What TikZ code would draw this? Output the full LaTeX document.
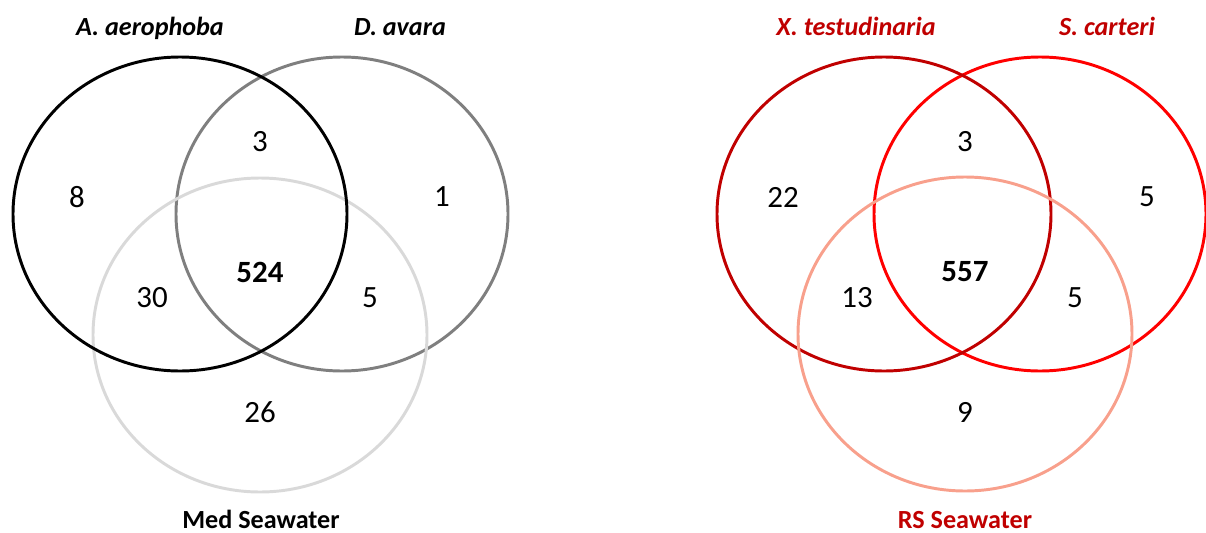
\documentclass[tikz,border=0pt]{standalone}
\usepackage{fontspec}
\setmainfont{Carlito}
\usepackage{tikz}
\usetikzlibrary{positioning}

\definecolor{cinzaesc}{HTML}{7F7F7F}
\definecolor{cinzacla}{HTML}{D9D9D9}
\definecolor{vermesc}{HTML}{C00000}
\definecolor{verm}{HTML}{FF0000}
\definecolor{salmao}{HTML}{F8A08C}

\begin{document}
\begin{tikzpicture}[
        x=0.025cm, y=-0.025cm,
        conj/.style={line width=2.1pt},
        num/.style={font=\fontsize{22}{26}\selectfont, inner sep=0pt},
        nucleo/.style={num, font=\fontsize{22}{26}\selectfont\bfseries},
        rotulo/.style={anchor=base, inner sep=0pt, font=\fontsize{18.6}{22}\selectfont\bfseries\itshape},
        amostra/.style={anchor=base, inner sep=0pt, font=\fontsize{18.6}{22}\selectfont\bfseries}
    ]
        \useasboundingbox (0,0) rectangle (1206,533);
        % Mediterranean sponges
        \draw[conj, cinzaesc] (342,214) ellipse [x radius=166, y radius=157];
        \draw[conj, cinzacla] (260,335) ellipse [x radius=167, y radius=157];
        \draw[conj, black] (180,214) ellipse [x radius=167, y radius=157];
        \node[rotulo] (aero) at (150,35) {A. aerophoba};
        \node[rotulo] (avara) at (400,35) {D. avara};
        \node[amostra] (med) at (261,528) {Med Seawater};
        \node[num] (a) at (77,197) {8};
        \node[num] (ad) at (260,142) {3};
        \node[num] (d) at (442,197) {1};
        \node[num] (am) at (152,298) {30};
        \node[nucleo] (adm) at (260,272) {524};
        \node[num] (dm) at (370,298) {5};
        \node[num] (m) at (260,412) {26};
        % Red Sea sponges
        \draw[conj, verm] (1040,214) ellipse [x radius=166, y radius=157];
        \draw[conj, vermesc] (884,214) ellipse [x radius=167, y radius=157];
        \draw[conj, salmao] (965,334) ellipse [x radius=167, y radius=157];
        \node[rotulo, vermesc] (testu) at (856,35) {X. testudinaria};
        \node[rotulo, vermesc] (cart) at (1107,35) {S. carteri};
        \node[amostra, vermesc] (rs) at (965,528) {RS Seawater};
        \node[num] (x) at (783,197) {22};
        \node[num] (xs) at (965,142) {3};
        \node[num] (s) at (1147,197) {5};
        \node[num] (xr) at (857,298) {13};
        \node[nucleo] (xsr) at (965,272) {557};
        \node[num] (sr) at (1075,298) {5};
        \node[num] (r) at (965,412) {9};
    \end{tikzpicture}
\end{document}
